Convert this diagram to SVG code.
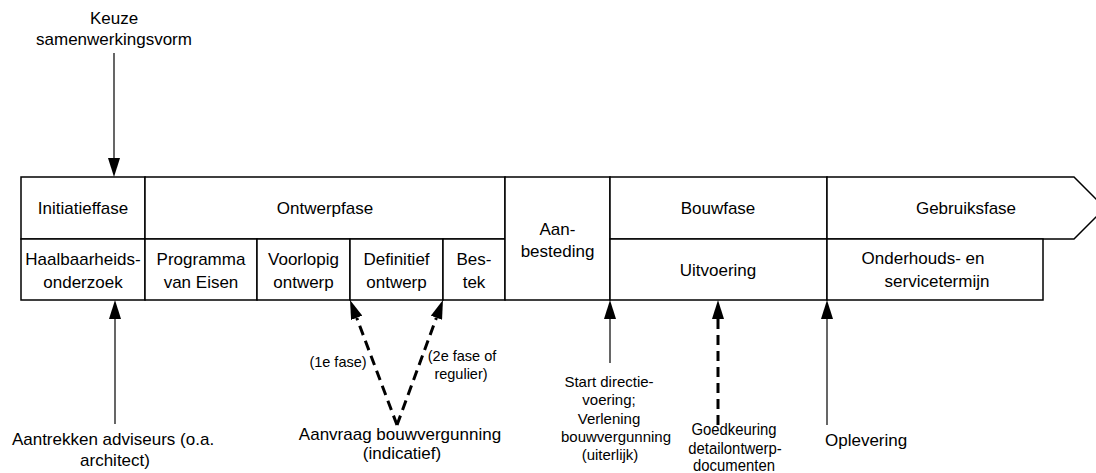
<svg xmlns="http://www.w3.org/2000/svg" width="1096" height="473" viewBox="0 0 1096 473">
<style>
  .cell{fill:#fff;stroke:#000;stroke-width:1.5}
  .t{font-family:"Liberation Sans",Arial,sans-serif;font-size:17px;fill:#000;text-anchor:middle}
  .s{font-size:15px}
  .xs{font-size:14.5px}
  .c{stroke:#000;stroke-width:1.2;fill:none}
  .d{stroke:#000;stroke-width:3;fill:none;stroke-dasharray:10 6}
</style>
<defs>
  <marker id="ah" viewBox="0 0 19 12" refX="0" refY="6" markerWidth="19" markerHeight="12" markerUnits="userSpaceOnUse" orient="auto">
    <path d="M0,0 L19,6 L0,12 z" fill="#000"/>
  </marker>
</defs>
<rect width="1096" height="473" fill="#fff"/>

<g id="initiatieffase"><rect class="cell" x="21" y="177" width="124" height="62"/><text class="t" x="83" y="214">Initiatieffase</text></g>
<g id="haalbaarheidsonderzoek"><rect class="cell" x="21" y="239" width="124" height="61"/><text class="t" x="83" y="265">Haalbaarheids-</text><text class="t" x="83" y="288">onderzoek</text></g>
<g id="ontwerpfase"><rect class="cell" x="145" y="177" width="360" height="62"/><text class="t" x="325" y="214">Ontwerpfase</text></g>
<g id="programma"><rect class="cell" x="145" y="239" width="112" height="61"/><text class="t" x="201" y="265">Programma</text><text class="t" x="201" y="288">van Eisen</text></g>
<g id="voorlopig"><rect class="cell" x="257" y="239" width="93" height="61"/><text class="t" x="303.5" y="265">Voorlopig</text><text class="t" x="303.5" y="288">ontwerp</text></g>
<g id="definitief"><rect class="cell" x="350" y="239" width="93" height="61"/><text class="t" x="396.5" y="265">Definitief</text><text class="t" x="396.5" y="288">ontwerp</text></g>
<g id="bestek"><rect class="cell" x="443" y="239" width="62" height="61"/><text class="t" x="474" y="265">Bes-</text><text class="t" x="474" y="288">tek</text></g>
<g id="aanbesteding"><rect class="cell" x="505" y="177" width="105" height="123"/><text class="t" x="557.5" y="235">Aan-</text><text class="t" x="557.5" y="257">besteding</text></g>
<g id="bouwfase"><rect class="cell" x="610" y="177" width="217" height="62"/><text class="t" x="718" y="214">Bouwfase</text></g>
<g id="uitvoering"><rect class="cell" x="610" y="239" width="217" height="61"/><text class="t" x="718" y="276">Uitvoering</text></g>
<g id="gebruiksfase"><polygon class="cell" points="827,177 1074,177 1105,208 1074,239 827,239"/><text class="t" x="966" y="214">Gebruiksfase</text></g>
<g id="onderhoud"><rect class="cell" x="827" y="239" width="216" height="61"/><text class="t" x="923" y="264">Onderhouds- en</text><text class="t" x="937" y="287">servicetermijn</text></g>

<g id="keuze"><text class="t" x="114" y="24">Keuze</text><text class="t" x="114" y="45">samenwerkingsvorm</text></g>
<g id="aantrekken"><text class="t" x="113" y="445">Aantrekken adviseurs (o.a.</text><text class="t" x="115" y="466">architect)</text></g>
<g id="aanvraag"><text class="t" x="400" y="440">Aanvraag bouwvergunning</text><text class="t" x="402" y="459">(indicatief)</text></g>
<g id="fase1"><text class="t xs" x="338" y="367">(1e fase)</text></g>
<g id="fase2"><text class="t xs" x="462" y="361">(2e fase of</text><text class="t xs" x="461" y="379">regulier)</text></g>
<g id="start"><text class="t s" x="609" y="387">Start directie-</text><text class="t s" x="609" y="405">voering;</text><text class="t s" x="609" y="424">Verlening</text><text class="t s" x="616" y="442">bouwvergunning</text><text class="t s" x="610" y="460">(uiterlijk)</text></g>
<g id="goedkeuring"><text class="t" font-size="16" transform="translate(734 0) scale(0.875 1)" x="0" y="435">Goedkeuring</text><text class="t" font-size="16" transform="translate(735 0) scale(0.875 1)" x="0" y="454">detailontwerp-</text><text class="t" font-size="16" transform="translate(734 0) scale(0.875 1)" x="0" y="471">documenten</text></g>
<g id="oplevering"><text class="t" x="825" y="446" style="text-anchor:start">Oplevering</text></g>

<g id="connectors">
  <line class="c" x1="114" y1="53" x2="114" y2="158" marker-end="url(#ah)"/>
  <line class="c" x1="115" y1="424" x2="115" y2="319" marker-end="url(#ah)"/>
  <line class="d" x1="397" y1="425" x2="356.7" y2="317.8" marker-end="url(#ah)"/>
  <line class="d" x1="397" y1="425" x2="436.4" y2="317.8" marker-end="url(#ah)"/>
  <line class="c" x1="610" y1="363" x2="610" y2="319" marker-end="url(#ah)"/>
  <line class="d" x1="718" y1="425" x2="718" y2="319" marker-end="url(#ah)"/>
  <line class="c" x1="827" y1="425" x2="827" y2="319" marker-end="url(#ah)"/>
</g>
</svg>
